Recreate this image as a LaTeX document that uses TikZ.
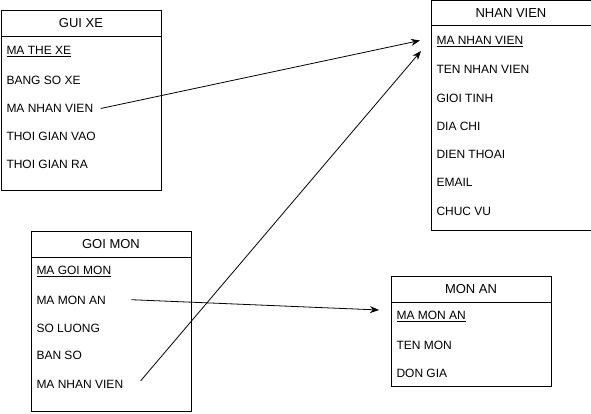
\documentclass[tikz,border=0pt]{standalone}
\usepackage{fontspec}
\setmainfont{Liberation Sans}
\usetikzlibrary{arrows.meta}

\begin{document}
\begin{tikzpicture}[x=1pt,y=-1pt,line width=1pt,
    box/.style={draw,anchor=north west,minimum width=160pt,inner sep=0pt},
    head/.style={box,font=\fontsize{13}{15}\selectfont},
    field/.style={anchor=west,inner sep=0pt,font=\fontsize{12}{14}\selectfont,text height=8.6pt,text depth=0pt},
    link/.style={-{Stealth[length=9pt,width=7pt]},line width=0.8pt}]
                \useasboundingbox (0,0) rectangle (591,414);
                \node[head,minimum height=26pt] (guixe) at (0.5,10) {GUI XE};
                \node[box,minimum height=154pt] (guixebody) at (0.5,36) {};
                \node[field] (gx1) at (6,50.5) {\underline{MA THE XE}};
                \node[field] (gx2) at (6,80.5) {BANG SO XE};
                \node[field] (gx3) at (6,108.5) {MA NHAN VIEN};
                \node[field] (gx4) at (6,136.5) {THOI GIAN VAO};
                \node[field] (gx5) at (6,164.5) {THOI GIAN RA};
                \node[head,minimum height=25pt] (nhanvien) at (430.5,0.5) {NHAN VIEN};
                \node[box,minimum height=204.5pt] (nhanvienbody) at (430.5,25.5) {};
                \node[field] (nv1) at (436,40.5) {\underline{MA NHAN VIEN}};
                \node[field] (nv2) at (436,69.5) {TEN NHAN VIEN};
                \node[field] (nv3) at (436,98.5) {GIOI TINH};
                \node[field] (nv4) at (436,126.5) {DIA CHI};
                \node[field] (nv5) at (436,154.5) {DIEN THOAI};
                \node[field] (nv6) at (436,182.5) {EMAIL};
                \node[field] (nv7) at (436,211) {CHUC VU};
                \node[head,minimum height=26pt] (goimon) at (30.5,230.5) {GOI MON};
                \node[box,minimum height=154pt] (goimonbody) at (30.5,256.5) {};
                \node[field] (gm1) at (36,270.5) {\underline{MA GOI MON}};
                \node[field] (gm2) at (36,299.7) {MA MON AN};
                \node[field] (gm3) at (36,327.8) {SO LUONG};
                \node[field] (gm4) at (36,355.5) {BAN SO};
                \node[field] (gm5) at (36,383.8) {MA NHAN VIEN};
                \node[head,minimum height=26pt] (monan) at (390.5,275.5) {MON AN};
                \node[box,minimum height=84pt] (monanbody) at (390.5,301.5) {};
                \node[field] (ma1) at (396,315) {\underline{MA MON AN}};
                \node[field] (ma2) at (396,344.7) {TEN MON};
                \node[field] (ma3) at (396,372.8) {DON GIA};
                \draw [link] ([xshift=7pt]gx3.east) -- ([xshift=-16pt]nv1.west);
                \draw [link] ([xshift=17pt,yshift=3pt]gm5.east) -- ([xshift=-15pt,yshift=-10.5pt]nv1.west);
                \draw [link] ([xshift=25pt]gm2.east) -- ([xshift=-17pt,yshift=5pt]ma1.west);
            \end{tikzpicture}
\end{document}
